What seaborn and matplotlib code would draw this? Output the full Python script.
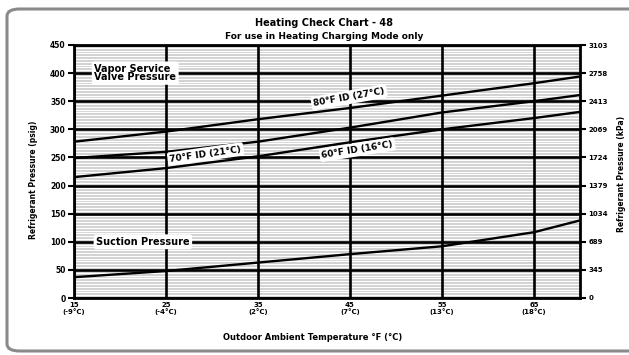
import matplotlib
matplotlib.use("Agg")
import matplotlib.pyplot as plt
from matplotlib.patches import FancyBboxPatch
import seaborn as sns
import pandas as pd

# Outdoor ambient temperature (°F) and the matching pressures (psig)
temps_f = [15, 25, 35, 45, 55, 65, 70]
vapor_80 = [278, 296, 318, 338, 360, 382, 394]
vapor_70 = [249, 260, 278, 303, 330, 350, 361]
vapor_60 = [215, 231, 252, 277, 300, 320, 331]
suction = [37, 48, 63, 78, 92, 117, 138]

x_ticks = [15, 25, 35, 45, 55, 65]
x_tick_labels = ["15\n(-9°C)", "25\n(-4°C)", "35\n(2°C)", "45\n(7°C)", "55\n(13°C)", "65\n(18°C)"]
psig_ticks = [0, 50, 100, 150, 200, 250, 300, 350, 400, 450]
kpa_labels = ["0", "345", "689", "1034", "1379", "1724", "2069", "2413", "2758", "3103"]

df = pd.DataFrame({
    "temp": temps_f * 4,
    "pressure": vapor_80 + vapor_70 + vapor_60 + suction,
    "curve": (["80°F ID (27°C)"] * len(temps_f) + ["70°F ID (21°C)"] * len(temps_f)
              + ["60°F ID (16°C)"] * len(temps_f) + ["Suction Pressure"] * len(temps_f)),
})

sns.set_style("white")
plt.rcParams["font.family"] = ["DejaVu Sans"]
plt.rcParams["font.weight"] = "bold"
plt.rcParams["text.color"] = "black"
plt.rcParams["xtick.color"] = "black"
plt.rcParams["ytick.color"] = "black"

fig = plt.figure(figsize=(6.29, 3.55), dpi=100)
ax = fig.add_axes([74 / 629, 57 / 355, 506 / 629, 253 / 355])

# striped grey background, drawn beneath the black grid
ax.set_facecolor("#cdcdcd")
ax.hlines(range(0, 451, 5), 15, 70, color="white", lw=0.9, zorder=0.2)
ax.set_axisbelow(True)
ax.grid(which="major", color="black", lw=1.9)

sns.lineplot(data=df, x="temp", y="pressure", units="curve", estimator=None,
             color="black", lw=1.7, legend=False, ax=ax, zorder=3)

ax.set_xlim(15, 70)
ax.set_ylim(0, 450)
ax.set_xticks(x_ticks)
ax.set_xticklabels(x_tick_labels, fontsize=5, fontweight="bold", linespacing=0.95)
ax.set_yticks(psig_ticks)
ax.set_yticklabels([str(v) for v in psig_ticks], fontsize=5.5, fontweight="bold")
ax.tick_params(axis="y", which="major", length=4, width=1.5, color="black", pad=2)
ax.tick_params(axis="x", length=0, pad=3)
ax.set_xlabel("")
ax.set_ylabel("")
for s in ax.spines.values():
    s.set_color("black")
    s.set_linewidth(2)

ax2 = ax.twinx()
ax2.set_ylim(0, 450)
ax2.set_yticks(psig_ticks)
ax2.set_yticklabels(kpa_labels, fontsize=5, fontweight="bold")
ax2.tick_params(axis="y", length=4, width=1.5, color="black", pad=2)
for s in ax2.spines.values():
    s.set_visible(False)

box = dict(boxstyle="round,pad=0.25", fc="white", ec="none")
ax.text(17.2, 400, "Vapor Service\nValve Pressure", fontsize=7, fontweight="bold",
        ha="left", va="center", linespacing=0.8, bbox=box, zorder=6)
ax.text(17.4, 100, "Suction Pressure", fontsize=7, fontweight="bold",
        ha="left", va="center", bbox=box, zorder=6)
ax.text(44.9, 357, "80°F ID (27°C)", fontsize=6.5, fontweight="bold", rotation=10,
        ha="center", va="center", bbox=box, zorder=6)
ax.text(29.3, 256, "70°F ID (21°C)", fontsize=6.5, fontweight="bold", rotation=8,
        ha="center", va="center", bbox=box, zorder=6)
ax.text(45.8, 264, "60°F ID (16°C)", fontsize=6.5, fontweight="bold", rotation=9,
        ha="center", va="center", bbox=box, zorder=6)

fig.text(0.515, 0.935, "Heating Check Chart - 48", fontsize=7, fontweight="bold",
         ha="center", va="center")
fig.text(0.515, 0.897, "For use in Heating Charging Mode only", fontsize=6.5,
         fontweight="bold", ha="center", va="center")
fig.text(0.053, 0.493, "Refrigerant Pressure (psig)", fontsize=5.5, fontweight="bold",
         rotation=90, ha="center", va="center")
fig.text(0.988, 0.51, "Refrigerant Pressure (kPa)", fontsize=5.5, fontweight="bold",
         rotation=90, ha="center", va="center")
fig.text(0.497, 0.05, "Outdoor Ambient Temperature °F (°C)", fontsize=6,
         fontweight="bold", ha="center", va="center")

# rounded outer frame
frame = FancyBboxPatch((7 / 629, 4 / 355), 700 / 629, 342 / 355,
                       boxstyle="round,pad=0,rounding_size=0.02",
                       transform=fig.transFigure, fc="none", ec="#8a8a8a", lw=2.2)
fig.patches.append(frame)

fig.savefig("out.png", dpi=100)
